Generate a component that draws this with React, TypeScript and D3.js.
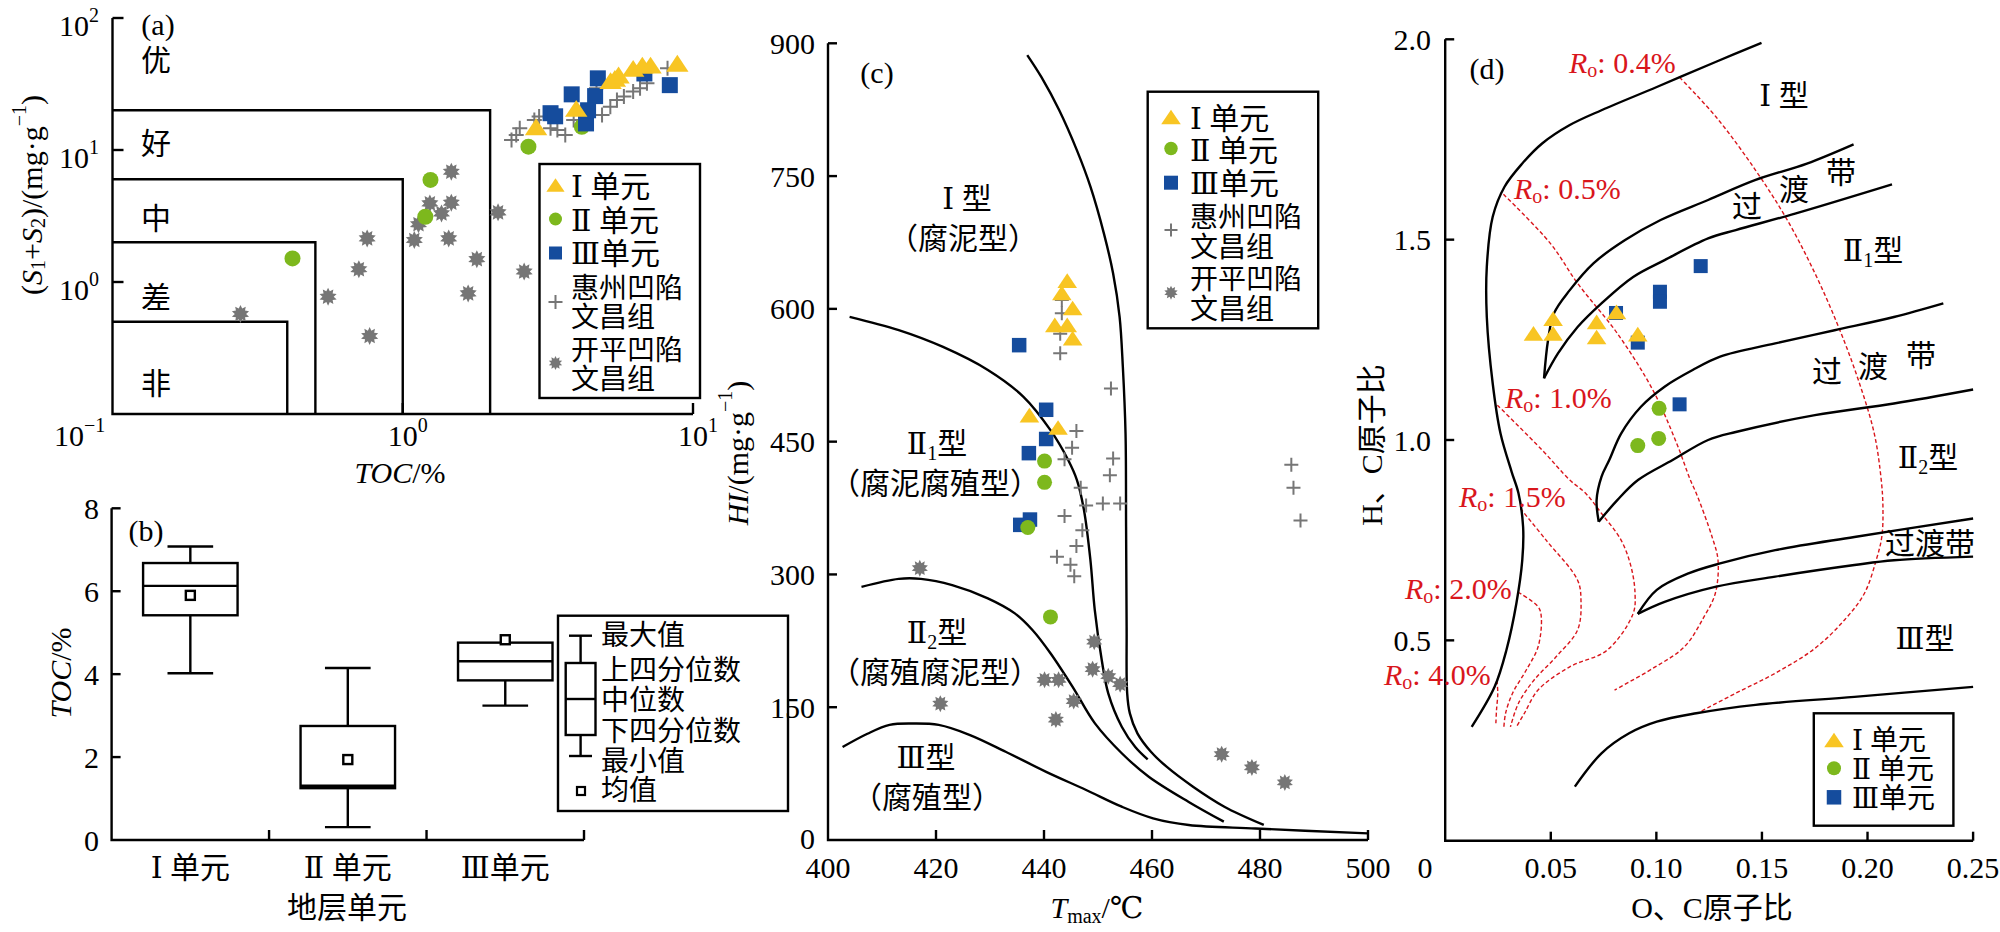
import React, { useEffect } from "react";
import * as d3 from "d3";

// ---------------- Panel (a) data: TOC (%) vs S1+S2 (mg/g) ----------------
const aUnit1: [number, number][] = [[2.88, 15.0], [3.96, 20.7], [5.2, 33.5], [5.38, 34.9], [5.54, 37], [6.22, 41.6], [6.69, 44], [7.14, 44], [8.83, 45.4]];
const aUnit2: [number, number][] = [[0.417, 1.51], [1.246, 5.93], [1.196, 3.12], [2.71, 10.6], [4.14, 15.0]];
const aUnit3: [number, number][] = [[3.23, 19.0], [3.35, 18.0], [3.82, 26.4], [4.6, 25.6], [4.7, 34.9], [4.28, 15.9], [4.35, 20.0], [6.8, 38], [8.32, 31]];
const aHuizhou: [number, number][] = [[2.37, 11.9], [2.46, 13.0], [2.53, 14.6], [2.84, 16.9], [2.95, 17.9], [3.23, 14.6], [3.41, 14.2], [3.63, 13.0], [3.88, 16.9], [4.65, 29.3], [4.86, 18.4], [5.19, 21.3], [5.47, 23.9], [5.78, 25.4], [6.22, 27.7], [6.57, 29.3], [6.94, 32.0], [8.17, 41.6]];
const aKaiping: [number, number][] = [[0.276, 0.573], [0.553, 0.774], [0.706, 1.25], [0.754, 2.14], [0.769, 0.39], [1.096, 2.08], [1.133, 2.74], [1.24, 3.94], [1.36, 3.31], [1.47, 6.85], [1.47, 3.99], [1.44, 2.14], [1.8, 1.49], [1.68, 0.82], [2.13, 3.37], [2.62, 1.2]];
const aGradeNames = ["优", "好", "中", "差", "非"];
const aGradeTOC = [2, 1, 0.5, 0.4];
const aGradeS = [20, 6, 2, 0.5];
const aTicks = [0.1, 1, 10];
const aTickExp = ["−1", "0", "1"];
const aYTicks = [100, 10, 1];
const aYTickExp = ["2", "1", "0"];

// ---------------- Panel (b) data: box plots ----------------
const bCategories = ["Ⅰ 单元", "Ⅱ 单元", "Ⅲ单元"];
const bMax = [7.08, 4.15, 4.76];
const bQ3 = [6.68, 2.75, 4.76];
const bMedian = [6.13, 1.31, 4.31];
const bQ1 = [5.42, 1.25, 3.85];
const bMin = [4.02, 0.31, 3.24];
const bMean = [5.9, 1.94, 4.83];
const bTicks = [0, 2, 4, 6, 8];

// ---------------- Panel (c) data: Tmax vs HI ----------------
const cUnit1: [number, number][] = [[444.3, 632], [443.3, 618], [445.3, 601], [442.0, 582], [444.3, 582], [445.3, 567], [437.3, 480], [442.6, 466]];
const cUnit2: [number, number][] = [[440.1, 428], [440.1, 404], [437.0, 353], [441.2, 252]];
const cUnit3: [number, number][] = [[435.4, 559], [440.4, 486], [440.4, 453], [437.2, 437], [437.4, 362], [435.6, 356]];
const cHuizhou: [number, number][] = [[443.3, 610], [443.3, 595], [443.0, 572], [443.0, 550], [452.4, 510], [446.0, 462], [445.2, 443], [443.8, 430], [452.8, 431], [452.2, 412], [485.8, 424], [486.2, 398], [487.5, 361], [446.8, 398], [447.8, 378], [450.9, 380], [454.1, 380], [443.8, 366], [447.1, 350], [446.0, 332], [442.4, 320], [444.9, 311], [445.6, 298]];
const cKaiping: [number, number][] = [[417.0, 307], [420.8, 154], [440.1, 181], [442.7, 181], [442.2, 136], [445.5, 157], [449.3, 224], [449.0, 193], [451.9, 185], [454.1, 176], [472.9, 97], [478.5, 82], [484.6, 65]];
const cCurveI: [number, number][] = [[436.9, 886.7], [439.5, 862], [442.8, 824.6], [446.1, 779], [448.6, 738], [451.1, 685], [452.8, 640], [454.0, 591], [454.6, 534.6], [455.1, 459], [455.2, 354], [455.3, 241], [455.4, 166], [455.9, 143], [457.3, 120.5], [459.8, 99.7], [462.7, 82.8], [467.6, 60.2], [473.4, 37.6], [480.7, 17]];
const cCurveII1: [number, number][] = [[404.0, 591], [413.1, 576], [421.3, 557], [429.6, 531], [436.2, 500.7], [441.2, 463], [444.5, 429], [446.1, 406.6], [447.4, 372.8], [448.6, 316], [449.4, 260], [450.7, 203], [451.9, 165.7], [454.4, 128], [456.9, 105], [459.2, 91]];
const cCurveII2: [number, number][] = [[406.2, 286], [413.1, 295], [417.2, 295], [423.0, 288], [429.6, 273], [434.6, 256], [437.9, 237], [441.2, 211], [445.3, 173], [449.4, 132], [454.4, 98], [459.4, 71.5], [466.8, 43], [473.3, 20.7]];
const cCurveIII: [number, number][] = [[402.7, 105], [407.3, 120], [411.4, 130], [415.6, 131.6], [420.5, 130], [426.3, 118.6], [432.9, 99.7], [440.4, 77], [447.8, 56.5], [454.4, 37.6], [460.2, 24.5], [466.8, 17], [479.2, 13], [500, 7.5]];
const cXTicks = [400, 420, 440, 460, 480, 500];
const cYTicks = [0, 150, 300, 450, 600, 750, 900];

// ---------------- Panel (d) data: O/C vs H/C ----------------
const dUnit1: [number, number][] = [[0.0418, 1.266], [0.0511, 1.303], [0.0511, 1.266], [0.0717, 1.295], [0.0717, 1.257], [0.0811, 1.32], [0.0912, 1.264]];
const dUnit2: [number, number][] = [[0.1013, 1.079], [0.0912, 0.986], [0.1011, 1.004]];
const dUnit3: [number, number][] = [[0.0809, 1.317], [0.0912, 1.243], [0.1017, 1.37], [0.1017, 1.345], [0.121, 1.434], [0.111, 1.089]];
const dEnvelope: [number, number][] = [[0.01255, 0.284], [0.0234, 0.384], [0.029, 0.476], [0.0337, 0.592], [0.0365, 0.7], [0.0369, 0.783], [0.0347, 0.867], [0.0315, 0.92], [0.0262, 1.016], [0.0225, 1.141], [0.0197, 1.307], [0.0197, 1.432], [0.0225, 1.557], [0.0281, 1.632], [0.0365, 1.69], [0.0459, 1.74], [0.059, 1.786], [0.074, 1.823], [0.1002, 1.881], [0.1283, 1.944], [0.1498, 1.991]];
const dBand1Upper: [number, number][] = [[0.0468, 1.154], [0.0487, 1.249], [0.0515, 1.316], [0.059, 1.374], [0.0702, 1.441], [0.0852, 1.499], [0.102, 1.549], [0.1245, 1.599], [0.147, 1.649], [0.1713, 1.69], [0.1934, 1.738]];
const dBand1Lower: [number, number][] = [[0.0468, 1.154], [0.0534, 1.216], [0.0627, 1.282], [0.074, 1.341], [0.089, 1.407], [0.1039, 1.449], [0.1245, 1.503], [0.1376, 1.524], [0.1657, 1.565], [0.2116, 1.638]];
const dBand2Upper: [number, number][] = [[0.0727, 0.796], [0.0717, 0.85], [0.074, 0.908], [0.0777, 0.95], [0.0833, 1.016], [0.0927, 1.083], [0.1039, 1.133], [0.117, 1.174], [0.1302, 1.208], [0.1563, 1.241], [0.1844, 1.274], [0.2125, 1.307], [0.2359, 1.341]];
const dBand2Lower: [number, number][] = [[0.0727, 0.796], [0.0815, 0.85], [0.0913, 0.9], [0.1077, 0.95], [0.1245, 1.0], [0.1376, 1.02], [0.1751, 1.062], [0.2125, 1.091], [0.25, 1.126]];
const dBand3Upper: [number, number][] = [[0.0912, 0.566], [0.1002, 0.626], [0.1152, 0.667], [0.1302, 0.692], [0.1563, 0.725], [0.1938, 0.758], [0.25, 0.804]];
const dBand3Lower: [number, number][] = [[0.0912, 0.566], [0.1039, 0.596], [0.1283, 0.634], [0.1563, 0.659], [0.1938, 0.688], [0.2125, 0.7], [0.25, 0.709]];
const dBottom: [number, number][] = [[0.0614, 0.135], [0.074, 0.218], [0.0871, 0.268], [0.1002, 0.297], [0.1189, 0.318], [0.147, 0.339], [0.1938, 0.359], [0.25, 0.384]];
const ro04: [number, number][] = [[0.111, 1.905], [0.1283, 1.806], [0.147, 1.673], [0.162, 1.549], [0.1751, 1.416], [0.1863, 1.282], [0.1957, 1.149], [0.2032, 1.016], [0.2065, 0.9], [0.2073, 0.833], [0.2068, 0.76], [0.2041, 0.7], [0.1985, 0.617], [0.1891, 0.551], [0.1751, 0.48], [0.1563, 0.418], [0.1376, 0.368], [0.1208, 0.322]];
const ro05: [number, number][] = [[0.0276, 1.613], [0.0496, 1.492], [0.0627, 1.391], [0.0815, 1.266], [0.0983, 1.125], [0.1096, 0.992], [0.1161, 0.9], [0.1189, 0.867], [0.1264, 0.758], [0.1292, 0.7], [0.1279, 0.617], [0.1226, 0.559], [0.1133, 0.484], [0.0983, 0.43], [0.0802, 0.376]];
const ro10: [number, number][] = [[0.0247, 1.087], [0.0459, 0.975], [0.059, 0.9], [0.0665, 0.867], [0.074, 0.817], [0.0833, 0.75], [0.088, 0.684], [0.0899, 0.617], [0.089, 0.567], [0.0768, 0.476], [0.059, 0.434], [0.044, 0.376], [0.0375, 0.318], [0.0337, 0.284]];
const ro15: [number, number][] = [[0.0356, 0.829], [0.0478, 0.75], [0.0627, 0.65], [0.0643, 0.6], [0.0627, 0.526], [0.0525, 0.459], [0.0421, 0.401], [0.0347, 0.343], [0.0309, 0.284]];
const ro20: [number, number][] = [[0.0345, 0.62], [0.044, 0.584], [0.0455, 0.559], [0.044, 0.484], [0.0384, 0.426], [0.0319, 0.368], [0.0286, 0.318], [0.0278, 0.284]];
const ro40: [number, number][] = [[0.0245, 0.4], [0.0249, 0.368], [0.0243, 0.326], [0.024, 0.293]];
const dXTicks = [0.05, 0.1, 0.15, 0.2, 0.25];
const dYTicks = [0.5, 1.0, 1.5, 2.0];

// ---------------- styling ----------------
const FONT = '"Liberation Serif","Times New Roman","DejaVu Serif","Noto Sans CJK SC",serif';
const FS = 30;
const LFS = 28;
const SUB = 20;
const YELLOW = "#F8C523";
const GREEN = "#7DB81D";
const BLUE = "#154C9D";
const GRAY = "#767676";
const RED = "#D9161C";
const LW = 2.4;

function triPath(cx: number, cy: number, w: number, h: number) {
  return `M${cx},${cy - h / 2}L${cx + w / 2},${cy + h / 2}L${cx - w / 2},${cy + h / 2}Z`;
}
function starPath(cx: number, cy: number, ro: number, ri: number, n: number) {
  let p = "";
  for (let i = 0; i < 2 * n; i++) {
    const r = i % 2 ? ri : ro;
    const a = (Math.PI * i) / n - Math.PI / 2;
    p += (i ? "L" : "M") + (cx + r * Math.cos(a)).toFixed(2) + "," + (cy + r * Math.sin(a)).toFixed(2);
  }
  return p + "Z";
}
function plusPath(cx: number, cy: number, s: number) {
  return `M${cx - s},${cy}H${cx + s}M${cx},${cy - s}V${cy + s}`;
}

type Pt = [number, number];
type Sc = (v: number) => number;

function Markers({ data, sx, sy, kind, size }: { data: Pt[]; sx: Sc; sy: Sc; kind: string; size: number }) {
  return (
    <g>
      {data.map((d, i) => {
        const x = sx(d[0]);
        const y = sy(d[1]);
        if (kind === "tri") return <path key={i} d={triPath(x, y, size * 1.4, size * 1.05)} fill={YELLOW} />;
        if (kind === "circle") return <circle key={i} cx={x} cy={y} r={size / 2} fill={GREEN} />;
        if (kind === "square") return <rect key={i} x={x - size / 2} y={y - size / 2} width={size} height={size} fill={BLUE} />;
        if (kind === "star") return <path key={i} d={starPath(x, y, size / 2, size / 3.2, 10)} fill={GRAY} />;
        return <path key={i} d={plusPath(x, y, size / 2)} stroke={GRAY} strokeWidth={2} fill="none" />;
      })}
    </g>
  );
}

function Legend({ x, y, w, h, rows, symX, textX, fs }: any) {
  return (
    <g>
      <rect x={x} y={y} width={w} height={h} fill="white" stroke="black" strokeWidth={LW} />
      {rows.map((r: any, i: number) => {
        let sym: any = null;
        if (r.kind === "tri") sym = <path d={triPath(symX, r.sy, r.s * 1.4, r.s * 1.05)} fill={YELLOW} />;
        if (r.kind === "circle") sym = <circle cx={symX} cy={r.sy} r={r.s / 2} fill={GREEN} />;
        if (r.kind === "square") sym = <rect x={symX - r.s / 2} y={r.sy - r.s / 2} width={r.s} height={r.s} fill={BLUE} />;
        if (r.kind === "star") sym = <path d={starPath(symX, r.sy, r.s / 2, r.s / 3.2, 10)} fill={GRAY} />;
        if (r.kind === "plus") sym = <path d={plusPath(symX, r.sy, r.s / 2)} stroke={GRAY} strokeWidth={2} fill="none" />;
        return (
          <g key={i}>
            {sym}
            {r.lines.map((t: string, j: number) => (
              <text key={j} x={textX} y={r.ty[j]} dominantBaseline="central" fontSize={fs ? fs : r.lines.length > 1 ? LFS : FS}>
                {t}
              </text>
            ))}
          </g>
        );
      })}
    </g>
  );
}

function Ro({ x, y, v }: { x: number; y: number; v: string }) {
  return (
    <text x={x} y={y} dominantBaseline="central" fill={RED} fontSize={30}>
      <tspan fontStyle="italic">R</tspan>
      <tspan fontSize={SUB} dy={8}>o</tspan>
      <tspan dy={-8}>: {v}</tspan>
    </text>
  );
}

export default function App() {
  useEffect(() => {
    document.body.style.margin = "0";
  }, []);

  // scales
  const ax = d3.scaleLog().domain([0.1, 10]).range([112.5, 693]);
  const ay = d3.scaleLog().domain([0.1, 100]).range([414, 18]);
  const bx = d3.scaleBand().domain(bCategories).range([111.6, 584]);
  const by = d3.scaleLinear().domain([0, 8]).range([840, 508.3]);
  const cx = d3.scaleLinear().domain([400, 500]).range([828, 1368]);
  const cy = d3.scaleLinear().domain([0, 900]).range([840, 43.3]);
  const dx = d3.scaleLinear().domain([0, 0.25]).range([1445.2, 1973.1]);
  const dy = d3.scaleLinear().domain([0, 2]).range([840.7, 39.3]);

  const cLine = d3.line<Pt>().x((d) => cx(d[0])).y((d) => cy(d[1])).curve(d3.curveCatmullRom.alpha(0.5));
  const dLine = d3.line<Pt>().x((d) => dx(d[0])).y((d) => dy(d[1])).curve(d3.curveCatmullRom.alpha(0.5));

  const bw = bx.bandwidth();
  const boxW = bw * 0.6;
  const capW = bw * 0.29;

  return (
    <svg width={2000} height={932} style={{ position: "absolute", left: 0, top: 0, background: "white" }} fontFamily={FONT} fontSize={FS}>
      <rect x={0} y={0} width={2000} height={932} fill="white" />

      {/* ================= Panel (a) ================= */}
      <g>
        {aGradeTOC.map((t, i) => (
          <path key={i} d={`M${ax(0.1)},${ay(aGradeS[i])}H${ax(t)}V${ay(0.1)}`} fill="none" stroke="black" strokeWidth={LW} />
        ))}
        <path d={`M${ax(0.1)},${ay(100)}V${ay(0.1)}H${ax(10)}`} fill="none" stroke="black" strokeWidth={LW} />
        {aYTicks.map((t, i) => (
          <g key={i}>
            <line x1={ax(0.1)} x2={ax(0.1) + 11} y1={ay(t)} y2={ay(t)} stroke="black" strokeWidth={LW} />
            <text x={99} y={ay(t) + 18} textAnchor="end">
              10<tspan fontSize={SUB} dy={-14}>{aYTickExp[i]}</tspan>
            </text>
          </g>
        ))}
        {aTicks.map((t, i) => (
          <g key={i}>
            {i > 0 && <line x1={ax(t)} x2={ax(t)} y1={ay(0.1)} y2={ay(0.1) - 11} stroke="black" strokeWidth={LW} />}
            <text x={i === 0 ? 54 : ax(t) - 15} y={446}>
              10<tspan fontSize={SUB} dy={-14}>{aTickExp[i]}</tspan>
            </text>
          </g>
        ))}
        {aGradeNames.map((n, i) => (
          <text key={i} x={156} y={[60, 143, 218, 297, 383][i]} textAnchor="middle" dominantBaseline="central">
            {n}
          </text>
        ))}
        <text x={158} y={24} textAnchor="middle" dominantBaseline="central">(a)</text>
        <Markers data={aHuizhou} sx={ax} sy={ay} kind="plus" size={15} />
        <Markers data={aKaiping} sx={ax} sy={ay} kind="star" size={18} />
        <Markers data={aUnit2} sx={ax} sy={ay} kind="circle" size={16} />
        <Markers data={aUnit3} sx={ax} sy={ay} kind="square" size={16} />
        <Markers data={aUnit1} sx={ax} sy={ay} kind="tri" size={16} />
        <Legend
          x={539.5} y={164} w={160.5} h={234} symX={555.5} textX={571}
          rows={[
            { kind: "tri", s: 13, sy: 185, lines: ["Ⅰ 单元"], ty: [186] },
            { kind: "circle", s: 13, sy: 219, lines: ["Ⅱ 单元"], ty: [220] },
            { kind: "square", s: 13, sy: 253, lines: ["Ⅲ单元"], ty: [253] },
            { kind: "plus", s: 14, sy: 302, lines: ["惠州凹陷", "文昌组"], ty: [288, 317] },
            { kind: "star", s: 14, sy: 363, lines: ["开平凹陷", "文昌组"], ty: [350, 379] },
          ]}
        />
        <text transform="translate(31,195) rotate(-90)" textAnchor="middle" dominantBaseline="central">
          (<tspan fontStyle="italic">S</tspan>
          <tspan fontSize={SUB} dy={7}>1</tspan>
          <tspan dy={-7}>+</tspan>
          <tspan fontStyle="italic">S</tspan>
          <tspan fontSize={SUB} dy={7}>2</tspan>
          <tspan dy={-7}>)/(mg·g</tspan>
          <tspan fontSize={SUB} dy={-12}>−1</tspan>
          <tspan dy={12}>)</tspan>
        </text>
        <text x={400} y={472} textAnchor="middle" dominantBaseline="central">
          <tspan fontStyle="italic">TOC</tspan>/%
        </text>
      </g>

      {/* ================= Panel (b) ================= */}
      <g>
        <path d={`M${bx.range()[0]},${by(8)}V${by(0)}H${bx.range()[1]}`} fill="none" stroke="black" strokeWidth={LW} />
        {bTicks.map((t) => (
          <g key={t}>
            {t > 0 && <line x1={bx.range()[0]} x2={bx.range()[0] + 9} y1={by(t)} y2={by(t)} stroke="black" strokeWidth={LW} />}
            <text x={99} y={by(t)} textAnchor="end" dominantBaseline="central">{t}</text>
          </g>
        ))}
        {bCategories.map((c, i) => {
          const x0 = bx(c) as number;
          const xm = x0 + bw / 2;
          return (
            <g key={c}>
              <line x1={x0 + bw} x2={x0 + bw} y1={by(0)} y2={by(0) - 10} stroke="black" strokeWidth={LW} />
              <line x1={xm} x2={xm} y1={by(bQ3[i])} y2={by(bMax[i])} stroke="black" strokeWidth={LW} />
              <line x1={xm} x2={xm} y1={by(bQ1[i])} y2={by(bMin[i])} stroke="black" strokeWidth={LW} />
              {bMax[i] > bQ3[i] && <line x1={xm - capW / 2} x2={xm + capW / 2} y1={by(bMax[i])} y2={by(bMax[i])} stroke="black" strokeWidth={LW} />}
              <line x1={xm - capW / 2} x2={xm + capW / 2} y1={by(bMin[i])} y2={by(bMin[i])} stroke="black" strokeWidth={LW} />
              <rect x={xm - boxW / 2} y={by(bQ3[i])} width={boxW} height={by(bQ1[i]) - by(bQ3[i])} fill="white" stroke="black" strokeWidth={LW} />
              <line x1={xm - boxW / 2} x2={xm + boxW / 2} y1={by(bMedian[i])} y2={by(bMedian[i])} stroke="black" strokeWidth={LW} />
              <rect x={xm - 4.5} y={by(bMean[i]) - 4.5} width={9} height={9} fill="white" stroke="black" strokeWidth={2.4} />
              <text x={xm} y={867} textAnchor="middle" dominantBaseline="central">{c}</text>
            </g>
          );
        })}
        <text x={146} y={530} textAnchor="middle" dominantBaseline="central">(b)</text>
        <text x={347} y={907} textAnchor="middle" dominantBaseline="central">地层单元</text>
        <text transform="translate(60,673) rotate(-90)" textAnchor="middle" dominantBaseline="central">
          <tspan fontStyle="italic">TOC</tspan>/%
        </text>
        {/* legend */}
        <rect x={558} y={615.7} width={230} height={195.3} fill="white" stroke="black" strokeWidth={LW} />
        <line x1={580.6} x2={580.6} y1={635.7} y2={756} stroke="black" strokeWidth={LW} />
        <line x1={569} x2={592} y1={635.7} y2={635.7} stroke="black" strokeWidth={LW} />
        <line x1={569} x2={592} y1={756} y2={756} stroke="black" strokeWidth={LW} />
        <rect x={565.7} y={663} width={29.8} height={72} fill="white" stroke="black" strokeWidth={LW} />
        <line x1={565.7} x2={595.5} y1={699} y2={699} stroke="black" strokeWidth={LW} />
        <rect x={577} y={787} width={8} height={8} fill="white" stroke="black" strokeWidth={2.2} />
        {["最大值", "上四分位数", "中位数", "下四分位数", "最小值", "均值"].map((t, i) => (
          <text key={t} x={601} y={[635, 670, 700, 731, 761, 790][i]} dominantBaseline="central" fontSize={LFS}>{t}</text>
        ))}
      </g>

      {/* ================= Panel (c) ================= */}
      <g>
        <path d={`M${cx(400)},${cy(900)}V${cy(0)}H${cx(500)}`} fill="none" stroke="black" strokeWidth={LW} />
        {cYTicks.map((t) => (
          <g key={t}>
            {t > 0 && <line x1={cx(400)} x2={cx(400) + 9} y1={cy(t)} y2={cy(t)} stroke="black" strokeWidth={LW} />}
            <text x={815} y={t === 0 ? cy(t) - 2 : cy(t)} textAnchor="end" dominantBaseline="central">{t}</text>
          </g>
        ))}
        {cXTicks.map((t) => (
          <g key={t}>
            {t > 400 && <line x1={cx(t)} x2={cx(t)} y1={cy(0)} y2={cy(0) - 10} stroke="black" strokeWidth={LW} />}
            <text x={cx(t)} y={867} textAnchor="middle" dominantBaseline="central">{t}</text>
          </g>
        ))}
        {[cCurveI, cCurveII1, cCurveII2, cCurveIII].map((c, i) => (
          <path key={i} d={cLine(c) as string} fill="none" stroke="black" strokeWidth={LW} />
        ))}
        <Markers data={cHuizhou} sx={cx} sy={cy} kind="plus" size={14} />
        <Markers data={cKaiping} sx={cx} sy={cy} kind="star" size={17} />
        <Markers data={cUnit3} sx={cx} sy={cy} kind="square" size={14.5} />
        <Markers data={cUnit2} sx={cx} sy={cy} kind="circle" size={15} />
        <Markers data={cUnit1} sx={cx} sy={cy} kind="tri" size={14} />
        <text x={877} y={72} textAnchor="middle" dominantBaseline="central">(c)</text>
        {[
          ["Ⅰ 型", 967, 198],
          ["（腐泥型）", 963, 238],
          ["（腐泥腐殖型）", 935, 483],
          ["（腐殖腐泥型）", 935, 672],
          ["Ⅲ型", 926, 757],
          ["（腐殖型）", 927, 797],
        ].map(([t, x, y], i) => (
          <text key={i} x={x as number} y={y as number} textAnchor="middle" dominantBaseline="central">{t}</text>
        ))}
        <text x={937} y={443} textAnchor="middle" dominantBaseline="central">
          Ⅱ<tspan fontSize={SUB} dy={10}>1</tspan><tspan dy={-10}>型</tspan>
        </text>
        <text x={937} y={632} textAnchor="middle" dominantBaseline="central">
          Ⅱ<tspan fontSize={SUB} dy={10}>2</tspan><tspan dy={-10}>型</tspan>
        </text>
        <Legend
          x={1147.7} y={91.7} w={170.5} h={236.6} symX={1171} textX={1190}
          rows={[
            { kind: "tri", s: 14, sy: 117, lines: ["Ⅰ 单元"], ty: [118] },
            { kind: "circle", s: 13.5, sy: 148.5, lines: ["Ⅱ 单元"], ty: [150] },
            { kind: "square", s: 14, sy: 182.7, lines: ["Ⅲ单元"], ty: [183] },
            { kind: "plus", s: 13, sy: 230, lines: ["惠州凹陷", "文昌组"], ty: [217, 247] },
            { kind: "star", s: 14, sy: 292.7, lines: ["开平凹陷", "文昌组"], ty: [279, 309] },
          ]}
        />
        <text transform="translate(737,453) rotate(-90)" textAnchor="middle" dominantBaseline="central">
          <tspan fontStyle="italic">HI</tspan>/(mg·g<tspan fontSize={SUB} dy={-12}>−1</tspan>
          <tspan dy={12}>)</tspan>
        </text>
        <text x={1097} y={907} textAnchor="middle" dominantBaseline="central">
          <tspan fontStyle="italic">T</tspan>
          <tspan fontSize={SUB} dy={9}>max</tspan>
          <tspan dy={-9}>/℃</tspan>
        </text>
      </g>

      {/* ================= Panel (d) ================= */}
      <g>
        <path d={`M${dx(0)},${dy(2)}V${dy(0)}H${dx(0.25)}`} fill="none" stroke="black" strokeWidth={LW} />
        {dYTicks.map((t) => (
          <g key={t}>
            <line x1={dx(0)} x2={dx(0) + 9} y1={dy(t)} y2={dy(t)} stroke="black" strokeWidth={LW} />
            <text x={1431} y={dy(t)} textAnchor="end" dominantBaseline="central">{d3.format(".1f")(t)}</text>
          </g>
        ))}
        {dXTicks.map((t) => (
          <g key={t}>
            <line x1={dx(t)} x2={dx(t)} y1={dy(0)} y2={dy(0) - 9} stroke="black" strokeWidth={LW} />
            <text x={dx(t)} y={867} textAnchor="middle" dominantBaseline="central">{d3.format(".2f")(t)}</text>
          </g>
        ))}
        <text x={1425} y={867} textAnchor="middle" dominantBaseline="central">0</text>
        {[ro04, ro05, ro10, ro15, ro20, ro40].map((c, i) => (
          <path key={i} d={dLine(c) as string} fill="none" stroke={RED} strokeWidth={1.4} strokeDasharray="4,2.5" />
        ))}
        {[dEnvelope, dBand1Upper, dBand1Lower, dBand2Upper, dBand2Lower, dBand3Upper, dBand3Lower, dBottom].map((c, i) => (
          <path key={i} d={dLine(c) as string} fill="none" stroke="black" strokeWidth={LW} />
        ))}
        <Markers data={dUnit2} sx={dx} sy={dy} kind="circle" size={15} />
        <Markers data={dUnit3} sx={dx} sy={dy} kind="square" size={14} />
        <Markers data={dUnit1} sx={dx} sy={dy} kind="tri" size={14} />
        <text x={1487} y={68} textAnchor="middle" dominantBaseline="central">(d)</text>
        <Ro x={1569} y={62} v="0.4%" />
        <Ro x={1514} y={188} v="0.5%" />
        <Ro x={1505} y={397} v="1.0%" />
        <Ro x={1459} y={496} v="1.5%" />
        <Ro x={1405} y={588} v="2.0%" />
        <Ro x={1384} y={674} v="4.0%" />
        {[
          ["Ⅰ 型", 1784, 95],
          ["过", 1747, 206],
          ["渡", 1794, 189],
          ["带", 1841, 172],
          ["过", 1827, 371],
          ["渡", 1873, 366],
          ["带", 1921, 355],
          ["过渡带", 1930, 543],
          ["Ⅲ型", 1925, 638],
        ].map(([t, x, y], i) => (
          <text key={i} x={x as number} y={y as number} textAnchor="middle" dominantBaseline="central">{t}</text>
        ))}
        <text x={1873} y={250} textAnchor="middle" dominantBaseline="central">
          Ⅱ<tspan fontSize={SUB} dy={10}>1</tspan><tspan dy={-10}>型</tspan>
        </text>
        <text x={1928} y={457} textAnchor="middle" dominantBaseline="central">
          Ⅱ<tspan fontSize={SUB} dy={10}>2</tspan><tspan dy={-10}>型</tspan>
        </text>
        <Legend
          x={1813.8} y={713.3} w={139.6} h={112.4} symX={1834} textX={1852} fs={LFS}
          rows={[
            { kind: "tri", s: 14, sy: 740, lines: ["Ⅰ 单元"], ty: [740] },
            { kind: "circle", s: 14, sy: 768.3, lines: ["Ⅱ 单元"], ty: [769] },
            { kind: "square", s: 14.5, sy: 797.3, lines: ["Ⅲ单元"], ty: [798] },
          ]}
        />
        <text transform="translate(1371,445) rotate(-90)" textAnchor="middle" dominantBaseline="central">H、C原子比</text>
        <text x={1712} y={907} textAnchor="middle" dominantBaseline="central">O、C原子比</text>
      </g>
    </svg>
  );
}
